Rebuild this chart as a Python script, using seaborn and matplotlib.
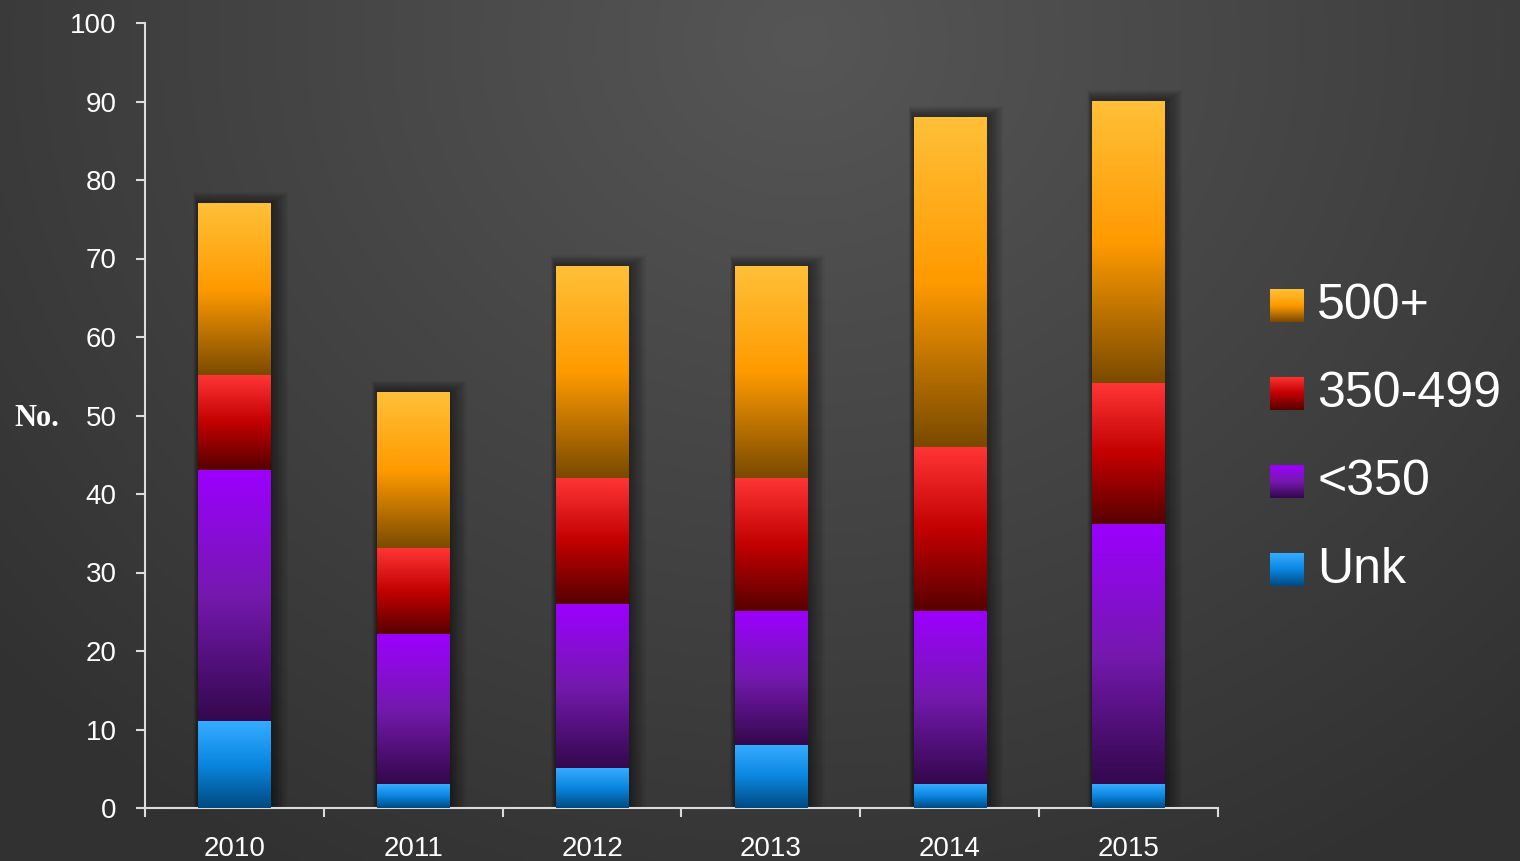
import numpy as np
import pandas as pd
import matplotlib
matplotlib.use("Agg")
import matplotlib.pyplot as plt
import seaborn as sns
from matplotlib.colors import LinearSegmentedColormap
from matplotlib.patches import Rectangle

# -----------------------------
# data
# -----------------------------
years = ["2010", "2011", "2012", "2013", "2014", "2015"]
unk = [11, 3, 5, 8, 3, 3]
lt350 = [32, 19, 21, 17, 22, 33]
mid350_499 = [12, 11, 16, 17, 21, 18]
over500 = [22, 20, 27, 27, 42, 36]

series_names = ["Unk", "<350", "350-499", "500+"]
yticks = list(range(0, 101, 10))

# gradient stops per series: bottom (dark), middle (base), top (light)
grad_colors = {
    "Unk": ["#004a80", "#0a86e0", "#35acff"],
    "<350": ["#33084c", "#7419ae", "#9c00ff"],
    "350-499": ["#560000", "#c20000", "#ff3535"],
    "500+": ["#7a4a00", "#ff9a00", "#ffc038"],
}

df = pd.DataFrame({"year": years, "Unk": unk, "<350": lt350,
                   "350-499": mid350_499, "500+": over500})
cum = df[series_names].cumsum(axis=1)

sns.set_style("dark")
plt.rcParams["font.family"] = ["Liberation Sans", "DejaVu Sans"]

fig = plt.figure(figsize=(15.2, 8.61), dpi=100)

# dark radial background
bg = fig.add_axes([0, 0, 1, 1], zorder=-10)
yy, xx = np.mgrid[0:861:4, 0:1520:4]
d = np.sqrt(((xx - 800) / 900.0) ** 2 + ((yy - 40) / 800.0) ** 2)
v = (0x56 - (0x56 - 0x31) * np.clip(d, 0, 1.2) / 1.2) / 255.0
bg.imshow(np.dstack([v, v, v]), aspect="auto", extent=[0, 1, 0, 1],
          interpolation="bilinear")
bg.axis("off")

ax = fig.add_axes([145 / 1520, 53 / 861, 1073 / 1520, 785 / 861])
ax.patch.set_alpha(0)

# draw cumulative totals, tallest first, with seaborn
levels = series_names[::-1]
for name in levels:
    sns.barplot(x=df["year"], y=cum[name], ax=ax, width=0.405,
                facecolor="none", edgecolor="none", linewidth=0)

n = len(years)
xpx = 1073 / n      # pixels per category
ypx = 785 / 100.0   # pixels per unit

# soft drop shadow behind each full bar
top_patches = ax.patches[:n]
for p in top_patches:
    x0, w, h = p.get_x(), p.get_width(), p.get_height()
    for k in range(1, 15):
        ax.add_patch(Rectangle((x0 - k * 0.35 / xpx, 0),
                               w + k * 1.6 / xpx, h + k * 0.8 / ypx,
                               facecolor="black", alpha=0.035,
                               edgecolor="none", zorder=1))

# gradient fill per segment
for li, name in enumerate(levels):
    cmap = LinearSegmentedColormap.from_list(name, grad_colors[name])
    grad = np.linspace(0, 1, 256).reshape(-1, 1)
    patches = ax.patches[li * n:(li + 1) * n]
    for i, p in enumerate(patches):
        top = p.get_height()
        idx = series_names.index(name)
        bottom = cum[series_names[idx - 1]].iloc[i] if idx > 0 else 0
        ax.imshow(grad, cmap=cmap, origin="lower", aspect="auto",
                  extent=[p.get_x(), p.get_x() + p.get_width(), bottom, top],
                  zorder=3, interpolation="bilinear")

ax.set_xlim(-0.5, n - 0.5)
ax.set_ylim(0, 100)
ax.set_yticks(yticks)
ax.set_xlabel("")
ax.set_ylabel("No.", rotation=0, color="white", fontsize=22,
              fontweight="bold", family=["Liberation Serif", "DejaVu Serif"],
              va="center", ha="center")
ax.yaxis.set_label_coords(-0.101, 0.496)
ax.grid(False)

for s in ["top", "right"]:
    ax.spines[s].set_visible(False)
for s in ["left", "bottom"]:
    ax.spines[s].set_visible(True)
    ax.spines[s].set_color("#dcdcdc")
    ax.spines[s].set_linewidth(1.5)

ax.tick_params(axis="y", left=True, length=6.5, width=1.5, color="#dcdcdc",
               labelcolor="white", labelsize=20, pad=14)
ax.set_xticks(np.arange(-0.5, n, 1.0), minor=True)
ax.tick_params(axis="x", which="major", bottom=True, length=0,
               labelcolor="white", labelsize=20, pad=20)
ax.tick_params(axis="x", which="minor", bottom=True, length=6.5, width=1.5,
               color="#dcdcdc")

# legend, gradient squares + text
for j, name in enumerate(series_names[::-1]):
    top_px = 289 + j * 88
    lax = fig.add_axes([1270 / 1520, 1 - (top_px + 33) / 861, 34 / 1520, 33 / 861])
    cmap = LinearSegmentedColormap.from_list(name + "_leg", grad_colors[name])
    lax.imshow(np.linspace(0, 1, 64).reshape(-1, 1), cmap=cmap, origin="lower",
               aspect="auto", interpolation="bilinear")
    lax.axis("off")
    fig.text(1317 / 1520, 1 - (top_px + 17) / 861, name, color="white",
             fontsize=36, ha="left", va="center")

fig.savefig("out.png", dpi=100)
